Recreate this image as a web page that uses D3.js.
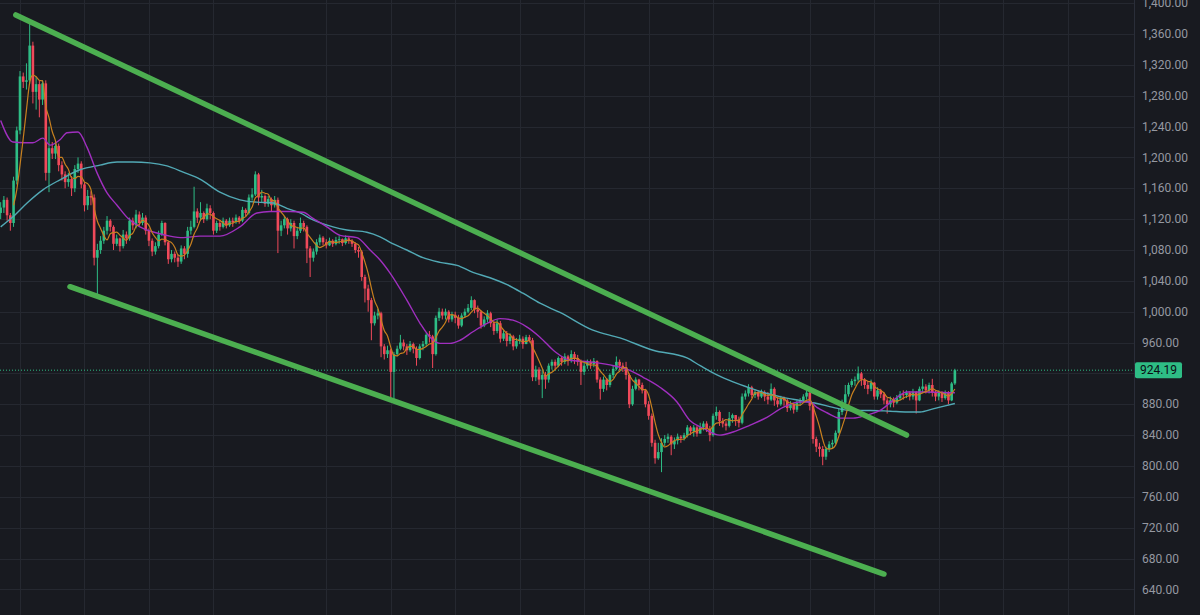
<!DOCTYPE html>
<html>
<head>
<meta charset="utf-8">
<script src="https://cdn.jsdelivr.net/npm/d3@7"></script>
<style>
  html, body { margin: 0; padding: 0; background: #181a20; overflow: hidden; }
  svg { display: block; }
</style>
</head>
<body>
<svg id="chart" width="1200" height="615"></svg>
<script>
// ---------------- DATA ----------------
const firstOpen = 1128;
const closes = [
  1135,1145,1125,1115,1170,1235,1305,1298,1300,1345,
  1285,1295,1275,1296,1180,1212,1205,1215,1190,1178,
  1168,1172,1160,1185,1192,1165,1138,1150,1148,1070,
  1080,1092,1105,1118,1110,1088,1095,1085,1100,1095,
  1118,1112,1126,1115,1122,1105,1092,1078,1085,1100,
  1115,1090,1068,1075,1070,1065,1082,1075,1105,1110,
  1130,1122,1128,1120,1134,1128,1105,1115,1110,1118,
  1112,1118,1116,1122,1118,1132,1128,1148,1152,1178,
  1148,1150,1140,1146,1138,1145,1105,1112,1120,1108,
  1115,1098,1105,1115,1110,1082,1070,1078,1090,1096,
  1090,1086,1092,1088,1093,1094,1089,1095,1092,
  1088,1080,1078,1045,1030,1015,985,995,998,955,
  945,950,922,945,952,960,955,950,958,952,
  940,955,958,970,968,945,992,1000,995,1000,
  990,996,992,982,995,1000,1005,1015,1003,1000,
  982,990,998,985,975,985,965,972,962,968,
  955,962,965,958,967,963,915,925,912,918,
  912,930,935,930,940,935,942,936,945,940,
  935,922,930,935,932,936,912,900,912,905,
  918,926,935,930,928,918,880,900,912,905,
  898,880,865,830,810,818,830,835,838,828,
  833,838,836,840,850,845,850,842,850,855,
  848,840,865,870,858,855,852,862,866,860,
  856,890,894,902,892,896,890,895,890,886,
  900,885,880,888,885,875,880,873,882,885,
  890,895,878,835,825,822,812,822,828,830,
  843,870,882,893,905,910,912,920,912,905,
  900,908,890,898,893,885,880,885,882,888,
  893,892,895,890,896,885,900,903,898,905,
  895,890,895,888,895,885,907,924.19
];
const highs = [
  1142,1150,1148,1128,1175,1240,1312,1310,1322,1378,
  1350,1305,1300,1300,1300,1240,1220,1222,1218,1195,
  1182,1180,1176,1190,1200,1195,1168,1158,1156,1152,
  1088,1098,1110,1124,1120,1112,1100,1096,1106,1104,
  1122,1122,1132,1130,1128,1125,1108,1095,1090,1105,
  1118,1116,1092,1080,1078,1074,1086,1085,1110,1118,
  1162,1134,1142,1130,1140,1138,1130,1118,1118,1122,
  1120,1122,1122,1126,1124,1136,1134,1152,1160,1182,
  1180,1158,1152,1150,1148,1150,1148,1118,1124,1122,
  1120,1118,1110,1122,1118,1112,1085,1082,1094,1100,
  1098,1094,1096,1094,1097,1098,1095,1099,1097,
  1094,1090,1084,1080,1048,1035,1018,1000,1004,1000,
  958,956,952,948,956,970,964,958,962,960,
  955,958,962,972,975,970,995,1005,1004,1004,
  1002,1000,1000,996,998,1004,1010,1020,1016,1008,
  1002,994,1002,1000,988,990,988,976,975,972,
  970,966,970,968,970,970,966,930,928,925,
  922,933,938,938,942,942,946,944,950,948,
  944,938,934,938,938,940,937,915,916,914,
  920,930,942,938,934,935,920,904,915,913,
  908,900,884,868,834,830,836,840,842,840,
  837,842,840,843,853,852,853,852,856,858,
  858,852,868,877,872,862,858,870,868,866,
  864,894,898,906,904,899,898,899,898,896,
  907,902,889,891,890,887,884,882,885,888,
  893,900,897,880,838,830,826,825,832,834,
  846,874,886,905,908,913,916,929,922,914,
  910,912,909,902,900,896,888,890,889,892,
  897,898,898,897,900,897,903,913,906,908,
  913,898,898,897,898,897,909,926
];
const lows = [
  1120,1128,1118,1105,1110,1165,1230,1290,1288,1295,
  1270,1262,1252,1268,1170,1155,1198,1198,1182,1170,
  1160,1162,1150,1155,1180,1160,1130,1132,1138,1060,
  1022,1075,1088,1100,1104,1080,1085,1078,1082,1088,
  1092,1106,1108,1110,1112,1100,1085,1072,1074,1082,
  1098,1086,1062,1064,1064,1058,1062,1068,1070,1100,
  1108,1115,1118,1115,1118,1120,1100,1102,1105,1108,
  1108,1110,1110,1114,1114,1116,1124,1126,1144,1150,
  1138,1142,1136,1136,1130,1135,1076,1098,1108,1100,
  1104,1082,1094,1102,1104,1063,1045,1065,1074,1086,
  1086,1082,1085,1084,1086,1088,1085,1087,1088,
  1084,1076,1070,1040,1012,1000,963,982,990,941,
  938,940,886,886,942,950,950,944,948,946,
  930,938,950,955,960,927,943,988,990,990,
  986,987,985,978,980,992,998,1002,998,992,
  978,980,986,980,970,972,960,962,955,958,
  950,952,958,952,958,960,910,910,905,888,
  900,908,925,925,928,930,932,930,934,932,
  930,905,918,926,926,928,908,886,896,898,
  902,914,924,924,922,912,875,878,898,898,
  894,876,860,825,803,808,792,826,830,814,
  822,828,830,833,837,840,838,838,842,846,
  844,832,838,860,852,850,846,850,856,852,
  850,854,886,890,888,888,886,888,884,880,
  884,878,876,878,878,870,872,868,870,878,
  882,886,872,829,818,812,801,808,818,823,
  828,842,866,878,890,902,904,908,904,900,
  893,897,886,886,888,880,868,876,876,880,
  885,886,888,885,886,868,884,895,894,894,
  890,884,885,883,886,880,884,905
];

// slow moving averages (candle index, price)
const purpleIdx = [0,3.8,7.5,10,13.1,15.3,18.4,20.6,24,26.8,29.9,33,36.1,39.5,43.2,48.5,52.5,56.6,61.8,68,74.2,79.5,83.6,89.8,93.8,96.9,101.2,105.3,110.5,114.6,117.7,120.8,126,130.1,133.2,136.3,139.4,142.5,146.5,150.9,154.9,158.9,163.3,167.3,172,176.6,182.8,189,195.2,199.3,204.5,209.8,213.8,217.9,223.1,227.2,232.5,237.7,242.7,247.9,251,253.2,256.3,260.4,264.4,268.7,272.8,276.8,281.2,287.4,294.5,296];
const purpleVal = [1248,1220,1219,1219,1225,1216,1223,1232,1233,1213,1180,1154,1138,1121,1110,1102,1098,1096,1098,1098,1110,1128,1130,1130,1129,1121,1110,1099,1096,1080,1067,1050,1015,985,967,959,959,963,974,985,991,989,980,967,948,937,935,931,924,915,902,883,859,849,840,844,853,863,876,883,883,876,869,862,862,866,872,885,896,896,895,895];
const tealIdx = [0,3.8,8.2,13.1,18.4,24.6,30.8,36.1,41,46.3,51.6,56.6,61.8,68,74.2,79.5,84.5,88.8,92.9,96.9,103.1,107.4,113.6,117.7,120.8,126,131,136.3,141.6,146.5,151.8,157.1,162,167.3,173.5,183.7,192.1,202.4,212.9,217,222.2,227.2,232.5,237.7,242.7,247.9,253.2,258.2,263.5,269.7,275.9,281.2,285.2,289.2,293,296];
const tealVal = [1110,1123,1141,1158,1171,1184,1190,1194,1194,1193,1189,1181,1172,1155,1145,1142,1141,1134,1128,1119,1110,1106,1103,1097,1090,1080,1070,1064,1060,1051,1044,1035,1024,1011,999,976,966,950,940,930,918,909,901,894,889,885,881,876,872,872,871,870,870,874,878,881];

// channel lines drawn on the chart (candle index, price)
const channelUpper = [[4.7, 1384.7], [281.0, 840.1]];
const channelLower = [[21.5, 1032.4], [274.0, 659.9]];

const yTicks = [640,680,720,760,800,840,880,920,960,1000,1040,1080,1120,1160,1200,1240,1280,1320,1360,1400];
const timeTicks = [6,26,46,66,101,121,141,161,181,201,221,251,271,291,311,331];
const lastPrice = 924.19;
const fastPeriod = 5;

// ---------------- LAYOUT ----------------
const W = 1200, H = 615, plotW = 1134;
const colors = {
  bg: "#181a20", grid: "#252830", axisText: "#9598a1",
  up: "#2ebd85", down: "#f0495a",
  fast: "#c8801f", mid: "#a02fbf", slow: "#52a9b5",
  channel: "#4caf50", tag: "#2ebd85"
};

const svg = d3.select("#chart");
svg.append("rect").attr("width", W).attr("height", H).attr("fill", colors.bg);

const x = d3.scaleLinear().domain([0, 296]).range([0.66, 0.66 + 296 * 3.2237]);
const y = d3.scaleLinear().domain([606.8, 1404.1]).range([H, 0]);

const data = closes.map((c, i) => ({
  i, c, o: i === 0 ? firstOpen : closes[i - 1], h: highs[i], l: lows[i]
}));

// grid
const grid = svg.append("g");
grid.selectAll("line.h").data(yTicks).join("line")
  .attr("x1", 0).attr("x2", plotW)
  .attr("y1", d => Math.round(y(d)) + 0.5).attr("y2", d => Math.round(y(d)) + 0.5)
  .attr("stroke", colors.grid).attr("stroke-width", 1);
grid.selectAll("line.v").data(timeTicks).join("line")
  .attr("x1", d => Math.round(x(d)) + 0.5).attr("x2", d => Math.round(x(d)) + 0.5)
  .attr("y1", 0).attr("y2", H)
  .attr("stroke", colors.grid).attr("stroke-width", 1);

// axis separator
svg.append("line").attr("x1", plotW + 0.5).attr("x2", plotW + 0.5).attr("y1", 0).attr("y2", H)
  .attr("stroke", "#2a2e39").attr("stroke-width", 1);

const plot = svg.append("g");
plot.append("clipPath").attr("id", "clip").append("rect").attr("width", plotW).attr("height", H);
plot.attr("clip-path", "url(#clip)");

// last price dotted line
plot.append("line").attr("x1", 0).attr("x2", plotW)
  .attr("y1", y(lastPrice)).attr("y2", y(lastPrice))
  .attr("stroke", colors.tag).attr("stroke-width", 1).attr("stroke-dasharray", "1,2");

// candles
const bw = 2.6;
const cg = plot.append("g");
cg.selectAll("line.wick").data(data).join("line")
  .attr("x1", d => x(d.i)).attr("x2", d => x(d.i))
  .attr("y1", d => y(d.h)).attr("y2", d => y(d.l))
  .attr("stroke", d => d.c >= d.o ? colors.up : colors.down).attr("stroke-width", 1);
cg.selectAll("rect.body").data(data).join("rect")
  .attr("x", d => x(d.i) - bw / 2).attr("width", bw)
  .attr("y", d => y(Math.max(d.o, d.c)))
  .attr("height", d => Math.max(1, Math.abs(y(d.o) - y(d.c))))
  .attr("fill", d => d.c >= d.o ? colors.up : colors.down);

// moving averages
const fast = data.map((d, i) => i < fastPeriod - 1 ? null :
  ({ i, v: d3.mean(closes.slice(i - fastPeriod + 1, i + 1)) })).filter(Boolean);
const lineGen = d3.line().x(d => x(d.i)).y(d => y(d.v)).curve(d3.curveMonotoneX);
plot.append("path").datum(tealIdx.map((i, k) => ({ i, v: tealVal[k] })))
  .attr("d", lineGen).attr("fill", "none").attr("stroke", colors.slow).attr("stroke-width", 1.4);
plot.append("path").datum(purpleIdx.map((i, k) => ({ i, v: purpleVal[k] })))
  .attr("d", lineGen).attr("fill", "none").attr("stroke", colors.mid).attr("stroke-width", 1.4);
plot.append("path").datum(fast)
  .attr("d", lineGen).attr("fill", "none").attr("stroke", colors.fast).attr("stroke-width", 1.2);

// channel lines
[channelUpper, channelLower].forEach(seg => {
  plot.append("line")
    .attr("x1", x(seg[0][0])).attr("y1", y(seg[0][1]))
    .attr("x2", x(seg[1][0])).attr("y2", y(seg[1][1]))
    .attr("stroke", colors.channel).attr("stroke-width", 5.5).attr("stroke-linecap", "round");
});

// y axis labels (the one hidden behind the last-price tag is not shown, as in the original)
const fmt = d3.format(",.2f");
const tagY = y(lastPrice);
svg.append("g").selectAll("text").data(yTicks.filter(d => Math.abs(y(d) - tagY) > 12)).join("text")
  .attr("x", 1142).attr("y", d => y(d)).attr("dy", "0.35em")
  .attr("fill", colors.axisText)
  .attr("font-family", "Roboto, 'Noto Sans', sans-serif").attr("font-size", 12)
  .text(d => fmt(d));

// last price tag
svg.append("rect").attr("x", 1135).attr("y", tagY - 8).attr("width", 47).attr("height", 16)
  .attr("rx", 2).attr("fill", colors.tag);
svg.append("text").attr("x", 1158.5).attr("y", tagY).attr("dy", "0.35em")
  .attr("text-anchor", "middle").attr("fill", "#0b0e14")
  .attr("font-family", "Roboto, 'Noto Sans', sans-serif").attr("font-size", 12)
  .text(fmt(lastPrice));
</script>
</body>
</html>
